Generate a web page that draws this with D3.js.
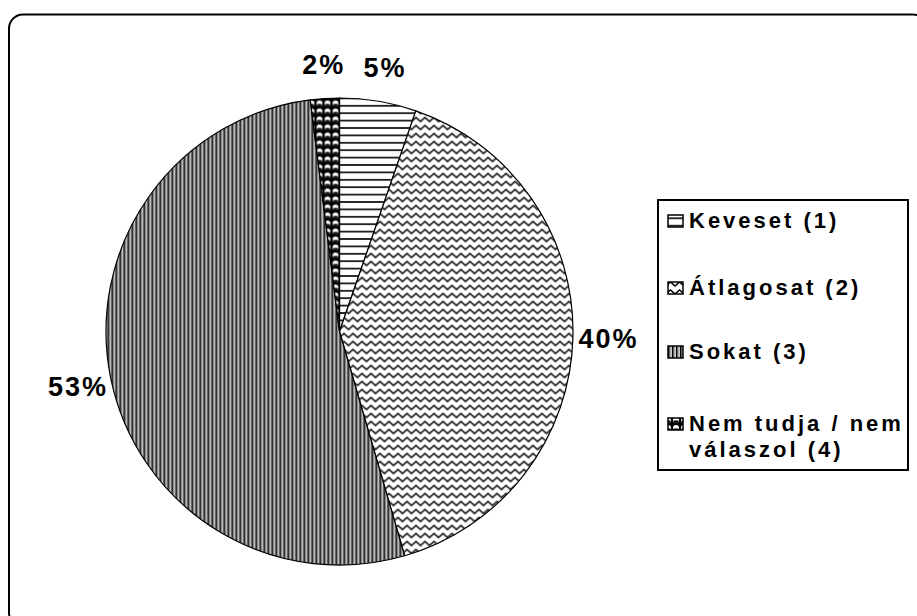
<!DOCTYPE html>
<html>
<head>
<meta charset="utf-8">
<script src="https://cdn.jsdelivr.net/npm/d3@7"></script>
<style>
  html, body { margin: 0; padding: 0; background: #fff; }
  svg { display: block; }
  text { font-family: "Liberation Sans", Arial, sans-serif; font-weight: bold; fill: #000; }
</style>
</head>
<body>
<svg id="chart" width="917" height="616"></svg>
<script>
// ---- data ----
const categories = ["Keveset (1)", "Átlagosat (2)", "Sokat (3)", "Nem tudja / nem válaszol (4)"];
const values = [5.3, 40.2, 52.5, 2.0];
const legendLines = [["Keveset (1)"], ["Átlagosat (2)"], ["Sokat (3)"], ["Nem tudja / nem", "válaszol (4)"]];
const patternNames = ["horiz", "zigzag", "vert", "dots"];

// ---- layout ----
const cx = 339.5, cy = 331.5, R = 233.5, labelR = 268;

const svg = d3.select("#chart");
const defs = svg.append("defs");

// patterns
const pH = defs.append("pattern").attr("id", "horiz").attr("patternUnits", "userSpaceOnUse")
  .attr("width", 8).attr("height", 7.4);
pH.append("rect").attr("width", 8).attr("height", 7.4).attr("fill", "#fff");
pH.append("line").attr("x1", 0).attr("x2", 8).attr("y1", 3.7).attr("y2", 3.7)
  .attr("stroke", "#000").attr("stroke-width", 1.6);

const pZ = defs.append("pattern").attr("id", "zigzag").attr("patternUnits", "userSpaceOnUse")
  .attr("width", 9).attr("height", 8);
pZ.append("rect").attr("width", 9).attr("height", 8).attr("fill", "#fff");
pZ.append("path").attr("d", "M-2.25,4 L0,6 L4.5,2 L9,6 L11.25,4").attr("fill", "none")
  .attr("stroke", "#000").attr("stroke-width", 1.6);

const pV = defs.append("pattern").attr("id", "vert").attr("patternUnits", "userSpaceOnUse")
  .attr("width", 4).attr("height", 4);
pV.append("rect").attr("width", 4).attr("height", 4).attr("fill", "#fff");
pV.append("rect").attr("x", 0).attr("width", 1.6).attr("height", 4).attr("fill", "#000");
pV.append("rect").attr("x", 2.4).attr("width", 1).attr("height", 4).attr("fill", "#777");

const pD = defs.append("pattern").attr("id", "dots").attr("patternUnits", "userSpaceOnUse")
  .attr("width", 8).attr("height", 8);
pD.append("rect").attr("width", 8).attr("height", 8).attr("fill", "#000");
pD.append("circle").attr("cx", 4).attr("cy", 4).attr("r", 3).attr("fill", "#fff");
pD.append("path").attr("d", "M1.5,4.5 A2.5,2.5 0 0 0 6.5,4.5 Z").attr("fill", "#000");

// outer frame
svg.append("rect")
  .attr("x", 9).attr("y", 14.5).attr("width", 918).attr("height", 612)
  .attr("rx", 14).attr("ry", 14)
  .attr("fill", "none").attr("stroke", "#000").attr("stroke-width", 2);

// pie
const total = d3.sum(values);
const pie = d3.pie().sort(null).value(d => d);
const arcs = pie(values);
const arc = d3.arc().innerRadius(0).outerRadius(R);
const labelArc = d3.arc().innerRadius(labelR).outerRadius(labelR);

const g = svg.append("g").attr("transform", `translate(${cx},${cy})`);
g.selectAll("path.slice").data(arcs).enter().append("path")
  .attr("class", "slice")
  .attr("d", arc)
  .attr("fill", (d, i) => `url(#${patternNames[i]})`)
  .attr("stroke", "#000").attr("stroke-width", 1.2).attr("stroke-linejoin", "round");

g.selectAll("text.pct").data(arcs).enter().append("text")
  .attr("class", "pct")
  .attr("transform", d => { const c = labelArc.centroid(d); return `translate(${c[0] + 1},${c[1]})`; })
  .attr("text-anchor", "middle")
  .attr("dy", "0.36em")
  .style("font-size", "27px")
  .style("letter-spacing", "2px")
  .text(d => Math.round(d.value / total * 100) + "%");

// legend
const legX = 658, legY = 200, legW = 250, legH = 270;
const lg = svg.append("g");
lg.append("rect").attr("x", legX).attr("y", legY).attr("width", legW).attr("height", legH)
  .attr("fill", "#fff").attr("stroke", "#000").attr("stroke-width", 2);

const baselines = [228, 295, 359, 431];
const lineGap = 26;
const items = lg.selectAll("g.item").data(categories).enter().append("g").attr("class", "item");
items.append("rect")
  .attr("x", legX + 10).attr("y", (d, i) => baselines[i] - 13)
  .attr("width", 15).attr("height", 12)
  .attr("fill", (d, i) => `url(#${patternNames[i]})`)
  .attr("stroke", "#000").attr("stroke-width", 1.5);
items.append("text")
  .attr("x", legX + 31)
  .attr("y", (d, i) => baselines[i])
  .style("font-size", "22px")
  .style("letter-spacing", "3px")
  .selectAll("tspan").data((d, i) => legendLines[i]).enter().append("tspan")
  .attr("x", legX + 31)
  .attr("dy", (t, j) => j === 0 ? 0 : lineGap)
  .text(t => t);
</script>
</body>
</html>
